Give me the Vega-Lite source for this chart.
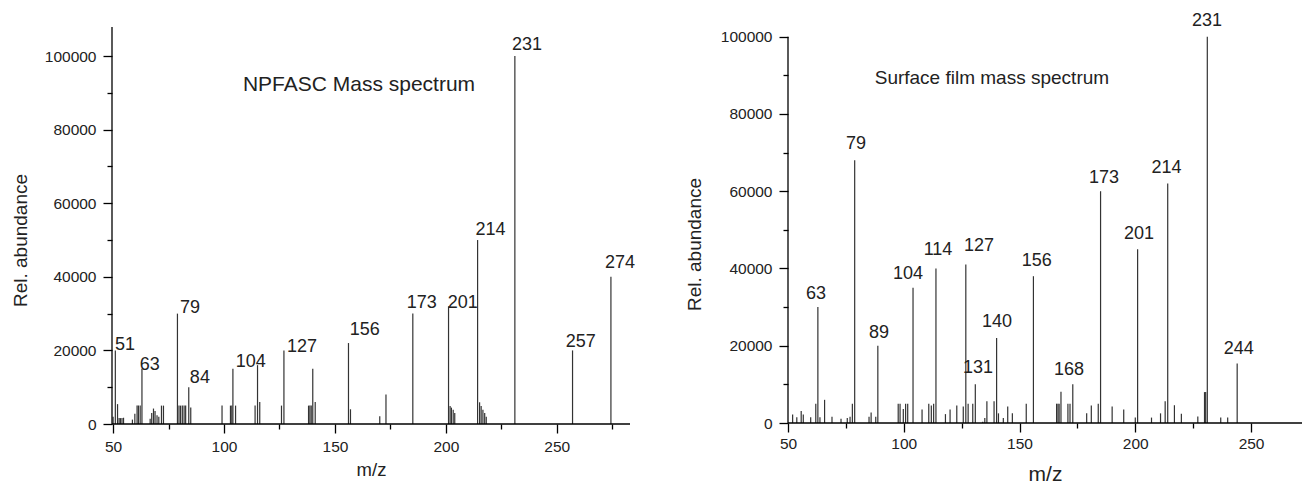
{
  "$schema": "https://vega.github.io/schema/vega-lite/v6.json",
  "padding": {"left": 11, "top": 12, "right": 0, "bottom": 0},
  "spacing": 50,
  "config": {
    "font": "Liberation Sans",
    "view": {"stroke": null},
    "axis": {
      "grid": false,
      "domain": false,
      "labelFlush": false,
      "tickColor": "#000000",
      "tickWidth": 1.3,
      "labelColor": "#222222",
      "titleColor": "#222222",
      "titleFontWeight": "normal",
      "labelFont": "Liberation Sans",
      "titleFont": "Liberation Sans",
      "labelFontSize": 15.5
    },
    "text": {"font": "Liberation Sans", "color": "#222222"}
  },
  "datasets": {
    "leftPeaks": [
      {"mz": 50, "abundance": 2000}, {"mz": 51, "abundance": 20000}, {"mz": 52, "abundance": 5400},
      {"mz": 52.7, "abundance": 1600}, {"mz": 53.3, "abundance": 1600}, {"mz": 54, "abundance": 1600}, {"mz": 54.7, "abundance": 1700},
      {"mz": 58.7, "abundance": 1200}, {"mz": 59.8, "abundance": 2800}, {"mz": 60.8, "abundance": 5000}, {"mz": 61.4, "abundance": 5000},
      {"mz": 62.2, "abundance": 5000}, {"mz": 63, "abundance": 15000}, {"mz": 66.7, "abundance": 1400}, {"mz": 67.4, "abundance": 3000},
      {"mz": 68.2, "abundance": 4200}, {"mz": 68.9, "abundance": 3500}, {"mz": 69.8, "abundance": 2400}, {"mz": 70.6, "abundance": 2000},
      {"mz": 71.8, "abundance": 5000}, {"mz": 72.7, "abundance": 5000}, {"mz": 79, "abundance": 30000}, {"mz": 79.7, "abundance": 5000},
      {"mz": 80.4, "abundance": 5000}, {"mz": 81.2, "abundance": 5000}, {"mz": 82, "abundance": 5000}, {"mz": 82.7, "abundance": 5000},
      {"mz": 84.1, "abundance": 10000}, {"mz": 85, "abundance": 4500}, {"mz": 99.1, "abundance": 5000}, {"mz": 102.9, "abundance": 5000},
      {"mz": 103.5, "abundance": 5000}, {"mz": 104, "abundance": 15000}, {"mz": 105.2, "abundance": 5000}, {"mz": 114, "abundance": 5000},
      {"mz": 115.1, "abundance": 16000}, {"mz": 116.1, "abundance": 6000}, {"mz": 125.9, "abundance": 5000}, {"mz": 127, "abundance": 20000},
      {"mz": 138.1, "abundance": 5000}, {"mz": 138.7, "abundance": 5000}, {"mz": 139.3, "abundance": 5000}, {"mz": 140, "abundance": 15000},
      {"mz": 141.1, "abundance": 6000}, {"mz": 156.1, "abundance": 22000}, {"mz": 157, "abundance": 4000}, {"mz": 170.2, "abundance": 2100},
      {"mz": 173, "abundance": 8000}, {"mz": 185.1, "abundance": 30000}, {"mz": 201.2, "abundance": 32000}, {"mz": 201.9, "abundance": 4900},
      {"mz": 202.5, "abundance": 4450}, {"mz": 203.3, "abundance": 3900}, {"mz": 204, "abundance": 3000}, {"mz": 214.3, "abundance": 50000},
      {"mz": 215.2, "abundance": 5900}, {"mz": 215.9, "abundance": 4900}, {"mz": 216.7, "abundance": 3900}, {"mz": 217.5, "abundance": 3000},
      {"mz": 218.2, "abundance": 2000}, {"mz": 231.1, "abundance": 100000}, {"mz": 257.1, "abundance": 20000}, {"mz": 274.4, "abundance": 40000}
    ],
    "leftLabels": [
      {"label": "51", "lx": 50.9, "ly": 20100}, {"label": "63", "lx": 62.0, "ly": 14700},
      {"label": "79", "lx": 80.1, "ly": 30100}, {"label": "84", "lx": 84.6, "ly": 11060},
      {"label": "104", "lx": 105.3, "ly": 15500}, {"label": "127", "lx": 128.4, "ly": 19650},
      {"label": "156", "lx": 156.7, "ly": 24200}, {"label": "173", "lx": 182.4, "ly": 31500},
      {"label": "201", "lx": 200.8, "ly": 31500}, {"label": "214", "lx": 213.4, "ly": 51360},
      {"label": "231", "lx": 229.8, "ly": 101600}, {"label": "257", "lx": 254.0, "ly": 21000},
      {"label": "274", "lx": 271.7, "ly": 42300}
    ],
    "rightPeaks": [
      {"mz": 52, "abundance": 2200}, {"mz": 53.8, "abundance": 1500}, {"mz": 55.7, "abundance": 3100}, {"mz": 56.6, "abundance": 2200},
      {"mz": 59.8, "abundance": 1500}, {"mz": 62, "abundance": 5000}, {"mz": 62.9, "abundance": 30000}, {"mz": 63.8, "abundance": 1500},
      {"mz": 65.8, "abundance": 6000}, {"mz": 69, "abundance": 1650}, {"mz": 72.9, "abundance": 1100}, {"mz": 75.6, "abundance": 1300},
      {"mz": 76.8, "abundance": 1600}, {"mz": 77.8, "abundance": 5000}, {"mz": 78.8, "abundance": 68000}, {"mz": 85, "abundance": 1600},
      {"mz": 85.9, "abundance": 2700}, {"mz": 87.9, "abundance": 1600}, {"mz": 88.8, "abundance": 20000}, {"mz": 97.6, "abundance": 5000},
      {"mz": 98.4, "abundance": 5000}, {"mz": 99.8, "abundance": 3600}, {"mz": 100.8, "abundance": 5000}, {"mz": 101.7, "abundance": 5000},
      {"mz": 104, "abundance": 35000}, {"mz": 107.9, "abundance": 3500}, {"mz": 110.8, "abundance": 5000}, {"mz": 111.9, "abundance": 4500},
      {"mz": 112.9, "abundance": 5000}, {"mz": 113.9, "abundance": 40000}, {"mz": 118, "abundance": 2300}, {"mz": 120, "abundance": 3500},
      {"mz": 122.9, "abundance": 4500}, {"mz": 125.7, "abundance": 4300}, {"mz": 126.8, "abundance": 41000}, {"mz": 127.8, "abundance": 5000},
      {"mz": 129.8, "abundance": 5000}, {"mz": 130.9, "abundance": 10000}, {"mz": 134.1, "abundance": 300}, {"mz": 135, "abundance": 1300},
      {"mz": 135.9, "abundance": 5600}, {"mz": 139, "abundance": 5600}, {"mz": 140.1, "abundance": 22000}, {"mz": 140.9, "abundance": 2500},
      {"mz": 143, "abundance": 1300}, {"mz": 144.9, "abundance": 4300}, {"mz": 146.9, "abundance": 2500}, {"mz": 152.9, "abundance": 5000},
      {"mz": 156, "abundance": 38000}, {"mz": 166, "abundance": 5000}, {"mz": 166.6, "abundance": 5000}, {"mz": 167.1, "abundance": 5000},
      {"mz": 167.9, "abundance": 8100}, {"mz": 170.9, "abundance": 5000}, {"mz": 171.8, "abundance": 5000}, {"mz": 173, "abundance": 10000},
      {"mz": 179, "abundance": 2500}, {"mz": 181, "abundance": 4500}, {"mz": 184, "abundance": 5000}, {"mz": 185, "abundance": 60000},
      {"mz": 190, "abundance": 4300}, {"mz": 195, "abundance": 3500}, {"mz": 200, "abundance": 1400}, {"mz": 201, "abundance": 45000},
      {"mz": 207, "abundance": 1400}, {"mz": 210.9, "abundance": 2500}, {"mz": 212.9, "abundance": 5600}, {"mz": 214, "abundance": 62000},
      {"mz": 216.9, "abundance": 4600}, {"mz": 219.9, "abundance": 2400}, {"mz": 227, "abundance": 1700}, {"mz": 229.9, "abundance": 8000},
      {"mz": 230.4, "abundance": 8000}, {"mz": 231.1, "abundance": 100000}, {"mz": 236.9, "abundance": 1400}, {"mz": 239.9, "abundance": 1400},
      {"mz": 244, "abundance": 15400}
    ],
    "rightLabels": [
      {"label": "63", "lx": 62.1, "ly": 32200}, {"label": "79", "lx": 79.4, "ly": 70850},
      {"label": "89", "lx": 89.3, "ly": 22100}, {"label": "104", "lx": 101.8, "ly": 37200},
      {"label": "114", "lx": 114.8, "ly": 43400}, {"label": "127", "lx": 132.5, "ly": 44500},
      {"label": "131", "lx": 132.1, "ly": 12940}, {"label": "140", "lx": 140.3, "ly": 24850},
      {"label": "156", "lx": 157.4, "ly": 40640}, {"label": "168", "lx": 171.4, "ly": 12350},
      {"label": "173", "lx": 186.5, "ly": 62130}, {"label": "201", "lx": 201.6, "ly": 47740},
      {"label": "214", "lx": 213.5, "ly": 64820}, {"label": "231", "lx": 231, "ly": 102690},
      {"label": "244", "lx": 244.7, "ly": 17780}
    ],
    "leftTitle": [{"text": "NPFASC Mass spectrum", "tx": 108.5, "ty": 90490}],
    "rightTitle": [{"text": "Surface film mass spectrum", "tx": 87.45, "ty": 87860}],
    "one": [{}]
  },
  "hconcat": [
    {
      "width": 518,
      "height": 397,
      "resolve": {"axis": {"x": "independent", "y": "independent"}},
      "layer": [
        {
          "data": {"name": "leftPeaks"},
          "mark": {"type": "rule", "color": "#333333", "strokeWidth": 1.2},
          "encoding": {
            "x": {
              "field": "mz", "type": "quantitative",
              "scale": {"domain": [49.5, 283], "nice": false, "zero": false},
              "axis": {
                "orient": "bottom",
                "title": "m/z", "titleFontSize": 18.5, "titlePadding": 6,
                "values": [50, 100, 150, 200, 250],
                "tickSize": 9,
                "labelPadding": 6
              }
            },
            "y": {
              "field": "abundance", "type": "quantitative",
              "scale": {"domain": [0, 107900], "nice": false},
              "axis": {
                "orient": "left",
                "title": "Rel. abundance", "titleFontSize": 19, "titlePadding": 14, "titleY": 213,
                "values": [0, 20000, 40000, 60000, 80000, 100000],
                "format": "d",
                "tickSize": 9,
                "labelPadding": 7
              }
            },
            "y2": {"datum": 0}
          }
        },
        {
          "data": {"name": "one"},
          "mark": {"type": "rule", "color": "#000000", "strokeWidth": 1.3},
          "encoding": {
            "x": {"datum": 49.5, "axis": null},
            "y": {"datum": 0, "axis": null},
            "y2": {"datum": 107900}
          }
        },
        {
          "data": {"name": "one"},
          "mark": {"type": "rule", "color": "#000000", "strokeWidth": 1.3},
          "encoding": {
            "x": {"datum": 49.5, "axis": null},
            "x2": {"datum": 283},
            "y": {"datum": 0, "axis": null}
          }
        },
        {
          "data": {"name": "leftLabels"},
          "mark": {"type": "text", "align": "left", "baseline": "alphabetic", "fontSize": 18},
          "encoding": {
            "x": {"field": "lx", "type": "quantitative",
              "axis": {"orient": "bottom", "values": [75, 125, 175, 225, 275], "labels": false, "tickSize": 5, "title": null}},
            "y": {"field": "ly", "type": "quantitative",
              "axis": {"orient": "left", "values": [10000, 30000, 50000, 70000, 90000], "labels": false, "tickSize": 5, "title": null}},
            "text": {"field": "label"}
          }
        },
        {
          "data": {"name": "leftTitle"},
          "mark": {"type": "text", "align": "left", "baseline": "alphabetic", "fontSize": 21},
          "encoding": {
            "x": {"field": "tx", "type": "quantitative", "axis": null},
            "y": {"field": "ty", "type": "quantitative", "axis": null},
            "text": {"field": "text"}
          }
        }
      ]
    },
    {
      "width": 514,
      "height": 396,
      "resolve": {"axis": {"x": "independent", "y": "independent"}},
      "layer": [
        {
          "data": {"name": "rightPeaks"},
          "mark": {"type": "rule", "color": "#333333", "strokeWidth": 1.2},
          "encoding": {
            "x": {
              "field": "mz", "type": "quantitative",
              "scale": {"domain": [50, 272], "nice": false, "zero": false},
              "axis": {
                "orient": "bottom",
                "title": "m/z", "titleFontSize": 21, "titlePadding": 12,
                "values": [50, 100, 150, 200, 250],
                "tickSize": 9,
                "labelPadding": 4
              }
            },
            "y": {
              "field": "abundance", "type": "quantitative",
              "scale": {"domain": [0, 102510], "nice": false},
              "axis": {
                "orient": "left",
                "title": "Rel. abundance", "titleFontSize": 19, "titlePadding": 16, "titleY": 217,
                "values": [0, 20000, 40000, 60000, 80000, 100000],
                "format": "d",
                "tickSize": 9,
                "labelPadding": 7
              }
            },
            "y2": {"datum": 0}
          }
        },
        {
          "data": {"name": "one"},
          "mark": {"type": "rule", "color": "#000000", "strokeWidth": 1.3},
          "encoding": {
            "x": {"datum": 50, "axis": null},
            "y": {"datum": 0, "axis": null},
            "y2": {"datum": 100000}
          }
        },
        {
          "data": {"name": "one"},
          "mark": {"type": "rule", "color": "#000000", "strokeWidth": 1.3},
          "encoding": {
            "x": {"datum": 50, "axis": null},
            "x2": {"datum": 272},
            "y": {"datum": 0, "axis": null}
          }
        },
        {
          "data": {"name": "rightLabels"},
          "mark": {"type": "text", "align": "center", "baseline": "alphabetic", "fontSize": 18},
          "encoding": {
            "x": {"field": "lx", "type": "quantitative",
              "axis": {"orient": "bottom", "values": [75, 125, 175, 225], "labels": false, "tickSize": 5, "title": null}},
            "y": {"field": "ly", "type": "quantitative",
              "axis": {"orient": "left", "values": [10000, 30000, 50000, 70000, 90000], "labels": false, "tickSize": 5, "title": null}},
            "text": {"field": "label"}
          }
        },
        {
          "data": {"name": "rightTitle"},
          "mark": {"type": "text", "align": "left", "baseline": "alphabetic", "fontSize": 19},
          "encoding": {
            "x": {"field": "tx", "type": "quantitative", "axis": null},
            "y": {"field": "ty", "type": "quantitative", "axis": null},
            "text": {"field": "text"}
          }
        }
      ]
    }
  ]
}
